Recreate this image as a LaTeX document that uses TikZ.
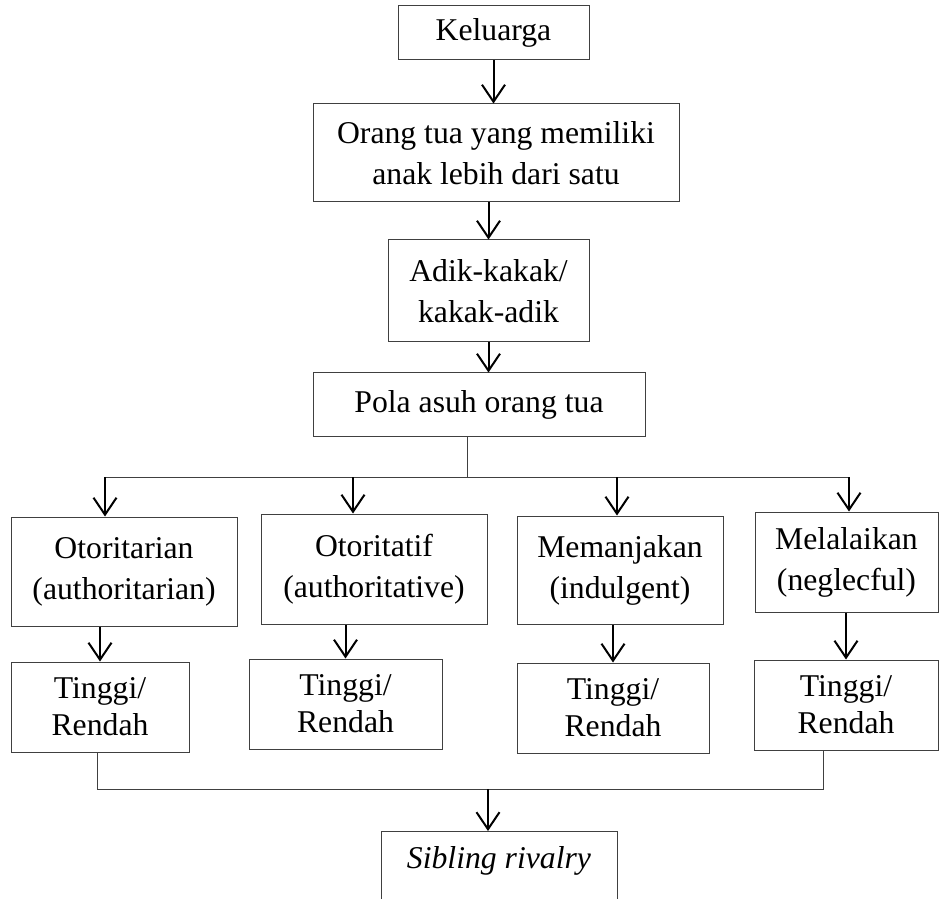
\documentclass[tikz,border=0pt]{standalone}
\usepackage{fontspec}
\setmainfont{Liberation Serif}
\usetikzlibrary{arrows.meta}

\tikzset{
    box/.style={draw=black!75, line width=0.5pt, align=center, inner sep=2pt,
        font=\fontsize{15.85}{20.5}\selectfont},
    lowbox/.style={box, minimum height=45pt, font=\fontsize{15.85}{18.5}\selectfont},
    arr/.style={-{Straight Barb[length=8.5pt,width=11.5pt]}, line width=1pt},
    link/.style={draw=black!75, line width=0.5pt}
}

\begin{document}
\begin{tikzpicture}[x=0.5pt, y=-0.5pt]
    \useasboundingbox (0,0) rectangle (939,899);

    \node[box, minimum width=95.5pt, minimum height=27pt] (kel) at (493.5,33) {Keluarga};
    \node[box, minimum width=183pt, minimum height=49pt] (orang) at (496,153) {Orang tua yang memiliki\\anak lebih dari satu};
    \node[box, minimum width=100.5pt, minimum height=51pt] (adik) at (488.5,291) {Adik-kakak/\\kakak-adik};
    \node[box, minimum width=166pt, minimum height=32pt] (pola) at (479,405) {Pola asuh orang tua};

    \node[box, minimum width=113pt, minimum height=54.5pt] (otor) at (124,571.5) {Otoritarian\\(authoritarian)};
    \node[box, minimum width=113pt, minimum height=55pt] (otif) at (374,569) {Otoritatif\\(authoritative)};
    \node[box, minimum width=103pt, minimum height=54pt] (manja) at (620,570) {Memanjakan\\(indulgent)};
    \node[box, minimum width=91.5pt, minimum height=50pt] (lalai) at (846.5,562) {Melalaikan\\(neglecful)};

    \node[lowbox, minimum width=89pt] (t1) at (100,707) {Tinggi/\\Rendah};
    \node[lowbox, minimum width=96.5pt] (t2) at (345.5,704) {Tinggi/\\Rendah};
    \node[lowbox, minimum width=96pt] (t3) at (613,708) {Tinggi/\\Rendah};
    \node[lowbox, minimum width=92pt] (t4) at (846,705) {Tinggi/\\Rendah};

    \node[box, anchor=north, minimum width=118pt, text height=11pt, text depth=30pt, inner ysep=7.5pt] (rival) at (499,831) {\textit{Sibling rivalry}};

    \draw[arr] (kel.south) -- (kel.south |- orang.north);
    \draw[arr] (adik.north |- orang.south) -- (adik.north);
    \draw[arr] (adik.south) -- (adik.south |- pola.north);

    % split
    \coordinate (top) at (467,477);
    \coordinate (b1) at (105,477);
    \coordinate (b2) at (353,477);
    \coordinate (b3) at (617,477);
    \coordinate (b4) at (849,477);
    \draw[link] (pola.south -| top) -- (top);
    \draw[link] (b1) -- (b4);
    \foreach \b/\n in {b1/otor, b2/otif, b3/manja, b4/lalai}
        \draw[arr] (\b) -- (\b |- \n.north);

    \foreach \u/\v in {otor/t1, otif/t2, manja/t3, lalai/t4}
        \draw[arr] (\v.north |- \u.south) -- (\v.north);

    % merge
    \coordinate (m1) at (97,789);
    \coordinate (m2) at (823,789);
    \coordinate (m0) at (488,789);
    \draw[link] (t1.south -| m1) -- (m1) -- (m2) -- (t4.south -| m2);
    \draw[arr] (m0) -- (m0 |- rival.north);
\end{tikzpicture}
\end{document}
